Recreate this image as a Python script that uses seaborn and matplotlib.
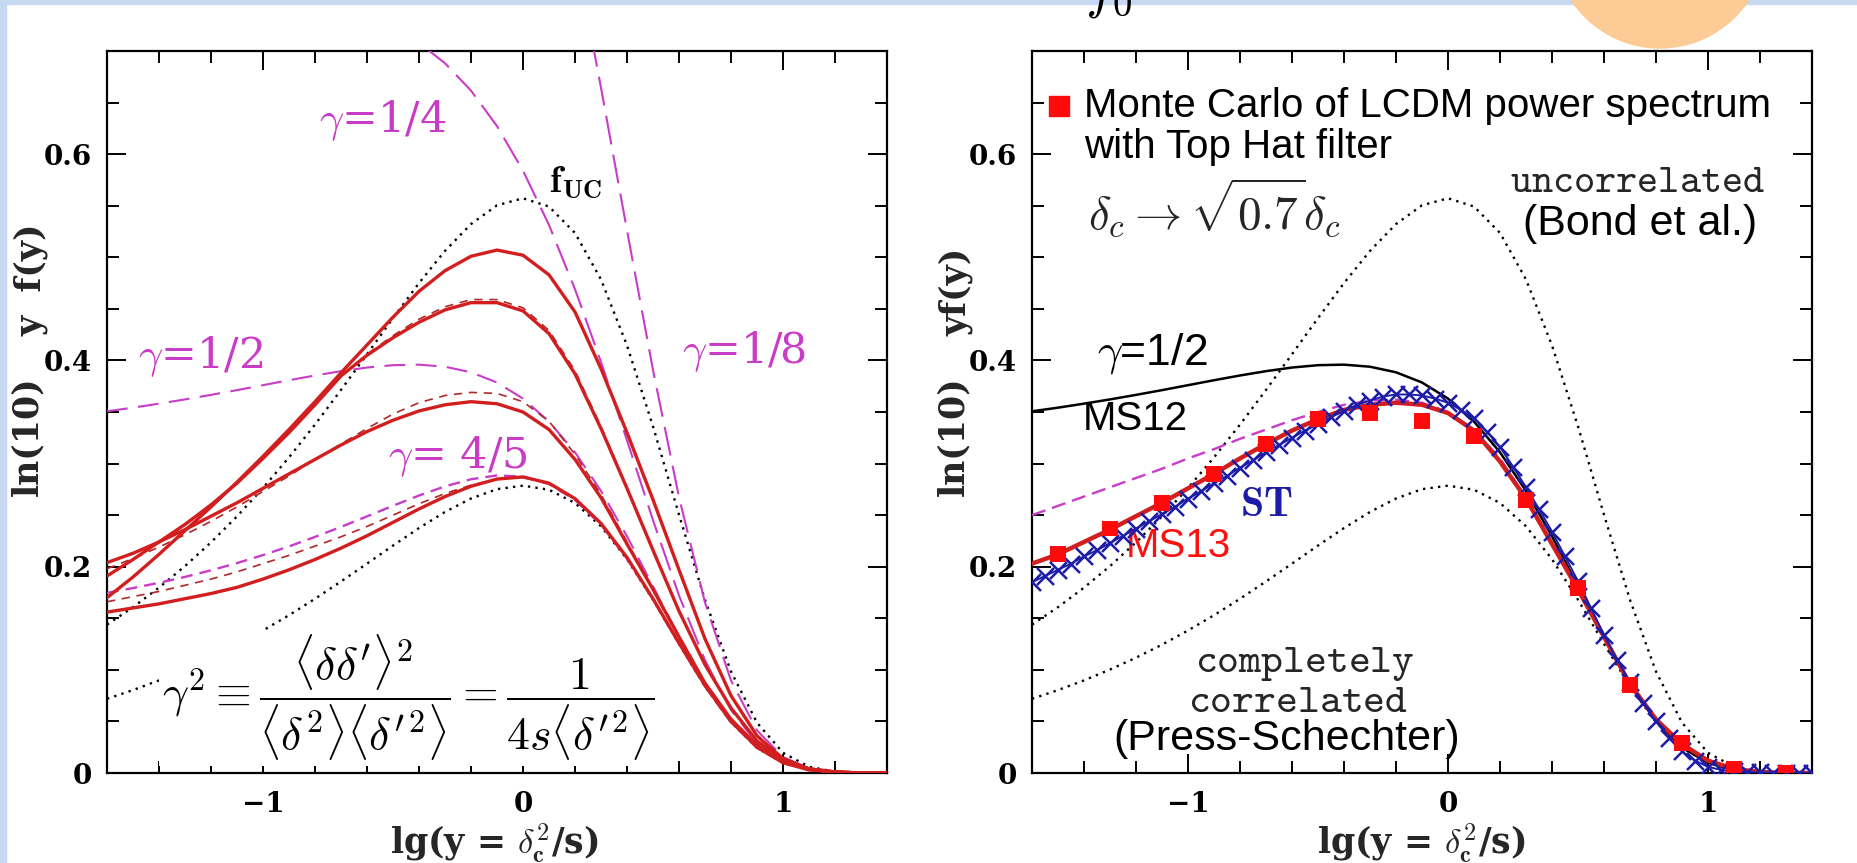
import numpy as np
import pandas as pd
import matplotlib
matplotlib.use("Agg")
import matplotlib.pyplot as plt
import seaborn as sns
from matplotlib.patches import Rectangle, Ellipse
from matplotlib.ticker import MultipleLocator

# ---------------- data ----------------
lg_y = [-1.6, -1.5, -1.4, -1.3, -1.2, -1.1, -1.0, -0.9, -0.8, -0.7, -0.6, -0.5, -0.4, -0.3, -0.2,
        -0.1, 0.0, 0.1, 0.2, 0.3, 0.4, 0.5, 0.6, 0.7, 0.8, 0.9, 1.0, 1.1, 1.2, 1.3, 1.4]

uncorrelated = [0.1438, 0.1608, 0.1797, 0.2006, 0.2236, 0.2488, 0.2763, 0.3060, 0.3378, 0.3714, 0.4060,
                0.4410, 0.4750, 0.5062, 0.5322, 0.5504, 0.5572, 0.5492, 0.5236, 0.4785, 0.4146, 0.3361,
                0.2504, 0.1678, 0.0984, 0.0488, 0.0196, 0.0060, 0.0013, 0.0002, 0.0000]
press_schechter = [0.0719, 0.0804, 0.0898, 0.1003, 0.1118, 0.1244, 0.1382, 0.1530, 0.1689, 0.1857, 0.2030,
                   0.2205, 0.2375, 0.2531, 0.2661, 0.2752, 0.2786, 0.2746, 0.2618, 0.2392, 0.2073, 0.1680,
                   0.1252, 0.0839, 0.0492, 0.0244, 0.0098, 0.0030, 0.0007, 0.0001, 0.0000]
ms12_half = [0.3507, 0.3542, 0.3581, 0.3622, 0.3666, 0.3712, 0.3760, 0.3808, 0.3854, 0.3896, 0.3931,
             0.3954, 0.3959, 0.3939, 0.3885, 0.3786, 0.3630, 0.3407, 0.3109, 0.2735, 0.2295, 0.1810,
             0.1319, 0.0869, 0.0503, 0.0247, 0.0099, 0.0030, 0.0007, 0.0001, 0.0000]
ms12_fourfifths = [0.1747, 0.1793, 0.1844, 0.1901, 0.1965, 0.2035, 0.2113, 0.2197, 0.2289, 0.2386, 0.2488,
                   0.2591, 0.2690, 0.2779, 0.2848, 0.2885, 0.2874, 0.2801, 0.2648, 0.2407, 0.2079, 0.1682,
                   0.1253, 0.0839, 0.0492, 0.0244, 0.0098, 0.0030, 0.0007, 0.0001, 0.0000]
lg_y_quarter = [-0.5, -0.4, -0.3, -0.2, -0.1, 0.0, 0.1, 0.2, 0.3, 0.4, 0.5, 0.6, 0.7, 0.8, 0.9, 1.0,
                1.1, 1.2, 1.3, 1.4]
ms12_quarter = [0.7225, 0.7080, 0.6881, 0.6616, 0.6272, 0.5840, 0.5313, 0.4690, 0.3985, 0.3225, 0.2451,
                0.1721, 0.1093, 0.0610, 0.0290, 0.0112, 0.0033, 0.0007, 0.0001, 0.0000]
lg_y_eighth = [0.2, 0.3, 0.4, 0.5, 0.6, 0.7, 0.8, 0.9, 1.0, 1.1, 1.2, 1.3, 1.4]
ms12_eighth = [0.7976, 0.6644, 0.5261, 0.3907, 0.2675, 0.1653, 0.0897, 0.0413, 0.0155, 0.0045, 0.0009,
               0.0001, 0.0000]

# Monte Carlo curves (left panel, red solid)
mc_eighth = [0.170, 0.190, 0.212, 0.235, 0.258, 0.282, 0.307, 0.333, 0.360, 0.388, 0.415, 0.442, 0.467,
             0.487, 0.501, 0.507, 0.502, 0.483, 0.447, 0.392, 0.330, 0.265, 0.197, 0.130, 0.075, 0.036,
             0.014, 0.004, 0.001, 0.000, 0.000]
mc_quarter = [0.191, 0.207, 0.224, 0.241, 0.260, 0.281, 0.305, 0.330, 0.357, 0.385, 0.405, 0.422, 0.437,
              0.449, 0.456, 0.456, 0.448, 0.426, 0.387, 0.334, 0.276, 0.216, 0.157, 0.105, 0.063, 0.031,
              0.013, 0.004, 0.001, 0.000, 0.000]
mc_half = [0.204, 0.213, 0.224, 0.236, 0.249, 0.262, 0.276, 0.290, 0.304, 0.318, 0.331, 0.342, 0.351,
           0.357, 0.360, 0.358, 0.350, 0.333, 0.304, 0.267, 0.222, 0.178, 0.132, 0.087, 0.052, 0.027,
           0.011, 0.004, 0.001, 0.000, 0.000]
mc_fourfifths = [0.156, 0.160, 0.164, 0.169, 0.174, 0.180, 0.188, 0.197, 0.207, 0.218, 0.230, 0.243,
                 0.256, 0.268, 0.278, 0.285, 0.287, 0.281, 0.266, 0.242, 0.209, 0.169, 0.126, 0.085,
                 0.050, 0.025, 0.010, 0.003, 0.001, 0.000, 0.000]
# approximations (left panel, thin red dashed)
approx_quarter = [0.191, 0.207, 0.224, 0.241, 0.260, 0.281, 0.305, 0.330, 0.357, 0.385, 0.406, 0.424,
                  0.440, 0.452, 0.459, 0.459, 0.451, 0.429, 0.390, 0.336, 0.277, 0.216, 0.157, 0.105,
                  0.063, 0.031, 0.013, 0.004, 0.001, 0.000, 0.000]
approx_half = [0.198, 0.208, 0.219, 0.231, 0.244, 0.258, 0.273, 0.288, 0.304, 0.319, 0.334, 0.348,
               0.359, 0.366, 0.369, 0.368, 0.360, 0.341, 0.309, 0.270, 0.224, 0.179, 0.133, 0.088,
               0.053, 0.027, 0.011, 0.004, 0.001, 0.000, 0.000]
approx_fourfifths = [0.166, 0.171, 0.176, 0.182, 0.188, 0.195, 0.203, 0.211, 0.220, 0.229, 0.239,
                     0.250, 0.261, 0.271, 0.279, 0.285, 0.287, 0.281, 0.266, 0.242, 0.209, 0.169,
                     0.126, 0.085, 0.050, 0.025, 0.010, 0.003, 0.001, 0.000, 0.000]

# right panel
ms13_curve = [0.203, 0.212, 0.224, 0.236, 0.249, 0.262, 0.276, 0.290, 0.305, 0.319, 0.332, 0.343, 0.352,
              0.357, 0.359, 0.357, 0.349, 0.332, 0.302, 0.266, 0.222, 0.178, 0.132, 0.086, 0.052, 0.028,
              0.012, 0.004, 0.001, 0.000, 0.000]
magenta_right = [0.250, 0.259, 0.268, 0.277, 0.286, 0.295, 0.305, 0.314, 0.324, 0.333, 0.342, 0.350,
                 0.357, 0.361, 0.362, 0.359, 0.350, 0.333, 0.305, 0.267, 0.223, 0.179, 0.131, 0.086,
                 0.052, 0.028, 0.012, 0.004, 0.001, 0.000, 0.000]
lg_y_st = [-1.6, -1.55, -1.5, -1.45, -1.4, -1.35, -1.3, -1.25, -1.2, -1.15, -1.1, -1.05, -1.0, -0.95,
           -0.9, -0.85, -0.8, -0.75, -0.7, -0.65, -0.6, -0.55, -0.5, -0.45, -0.4, -0.35, -0.3, -0.25,
           -0.2, -0.15, -0.1, -0.05, 0.0, 0.05, 0.1, 0.15, 0.2, 0.25, 0.3, 0.35, 0.4, 0.45, 0.5, 0.55,
           0.6, 0.65, 0.7, 0.75, 0.8, 0.85, 0.9, 0.95, 1.0, 1.05, 1.1, 1.15, 1.2, 1.25, 1.3, 1.35, 1.4]
sheth_tormen = [0.185, 0.191, 0.197, 0.203, 0.210, 0.216, 0.223, 0.230, 0.237, 0.244, 0.251, 0.258, 0.266,
                0.273, 0.281, 0.288, 0.296, 0.303, 0.311, 0.318, 0.325, 0.332, 0.338, 0.345, 0.351, 0.357,
                0.361, 0.365, 0.367, 0.367, 0.366, 0.363, 0.359, 0.352, 0.344, 0.331, 0.316, 0.297, 0.277,
                0.256, 0.234, 0.210, 0.186, 0.160, 0.134, 0.110, 0.088, 0.068, 0.050, 0.034, 0.021, 0.012,
                0.006, 0.003, 0.0015, 0.001, 0.0005, 0.0003, 0.0002, 0.0001, 0.0]
mc_lg_y = [-1.5, -1.3, -1.1, -0.9, -0.7, -0.5, -0.3, -0.1, 0.1, 0.3, 0.5, 0.7, 0.9, 1.1, 1.3]
mc_lcdm = [0.212, 0.237, 0.262, 0.290, 0.319, 0.343, 0.349, 0.341, 0.327, 0.265, 0.179, 0.085, 0.029,
           0.004, 0.000]

x_ticks = [-1, 0, 1]
y_ticks = [0, 0.2, 0.4, 0.6]
x_ticklabels = ["\u22121", "0", "1"]
y_ticklabels = ["0", "0.2", "0.4", "0.6"]

# ---------------- style ----------------
sns.set_theme(style="white")
plt.rcParams["font.family"] = ["DejaVu Serif"]
plt.rcParams["mathtext.fontset"] = "cm"

W, H = 1858, 863
fig = plt.figure(figsize=(W / 100, H / 100), dpi=100)
fig.patch.set_facecolor("white")

# slide decorations
fig.patches.append(Rectangle((0, 0), 6 / W, 1, transform=fig.transFigure, color="#c6d9f1", zorder=0))
fig.patches.append(Rectangle((0, 1 - 4 / H), 1, 4 / H, transform=fig.transFigure, color="#c6d9f1", zorder=0))

MAG = "#c83cc8"
RED = "#d21e1e"
DRED = "#b02828"
BLUE = "#1c1ca8"

axL = fig.add_axes([107 / W, 1 - 773 / H, 780 / W, 722 / H])
axR = fig.add_axes([1032 / W, 1 - 773 / H, 780 / W, 722 / H])


def style_axes(ax):
    ax.set_xlim(-1.6, 1.4)
    ax.set_ylim(0, 0.7)
    ax.xaxis.set_minor_locator(MultipleLocator(0.2))
    ax.yaxis.set_minor_locator(MultipleLocator(0.05))
    ax.set_xticks(x_ticks)
    ax.set_xticklabels(x_ticklabels, fontweight="bold")
    ax.set_yticks(y_ticks)
    ax.set_yticklabels(y_ticklabels, fontweight="bold")
    ax.tick_params(which="both", direction="in", top=True, right=True, bottom=True, left=True,
                   colors="black", width=1.4)
    ax.tick_params(which="major", length=14, labelsize=20, pad=11)
    ax.tick_params(axis="x", which="major", pad=13)
    ax.tick_params(which="minor", length=8.5)
    for s in ax.spines.values():
        s.set_color("black")
        s.set_linewidth(1.6)
        s.set_visible(True)
    ax.set_facecolor("white")
    ax.set_xlabel("")
    ax.set_ylabel("")


def line(ax, x, y, **kw):
    sns.lineplot(x=x, y=y, ax=ax, estimator=None, sort=False, **kw)


DOT = (0, (1, 2.2))

# ---------- left panel ----------
line(axL, lg_y, uncorrelated, color="black", lw=1.7, linestyle=DOT, zorder=2)
line(axL, lg_y, press_schechter, color="black", lw=1.7, linestyle=DOT, zorder=2)
line(axL, lg_y_quarter, ms12_quarter, color=MAG, lw=1.5, linestyle=(0, (14, 5)), zorder=3)
line(axL, lg_y_eighth, ms12_eighth, color=MAG, lw=1.5, linestyle=(0, (14, 5)), zorder=3)
line(axL, lg_y, ms12_half, color=MAG, lw=1.5, linestyle=(0, (10, 5)), zorder=3)
line(axL, lg_y, ms12_fourfifths, color=MAG, lw=1.7, linestyle=(0, (5, 3)), zorder=3)
for yy in (approx_quarter, approx_half, approx_fourfifths):
    line(axL, lg_y, yy, color=DRED, lw=1.2, linestyle=(0, (5, 4)), zorder=4)
for yy in (mc_eighth, mc_quarter, mc_half, mc_fourfifths):
    line(axL, lg_y, yy, color=RED, lw=2.4, zorder=5)

tkw = dict(color=MAG, fontsize=31, ha="center", va="center", family="DejaVu Serif")
axL.text(-0.54, 0.633, r"$\gamma$=1/4", **tkw)
axL.text(-1.24, 0.404, r"$\gamma$=1/2", **tkw)
axL.text(0.85, 0.409, r"$\gamma$=1/8", **tkw)
axL.text(-0.25, 0.307, r"$\gamma$= 4/5", **tkw)
axL.text(0.20, 0.572, r"$\mathbf{f}_{\mathbf{UC}}$", color="black", fontsize=27, ha="center", va="center")
axL.text(-1.39, 0.073,
         r"$\gamma^2 \equiv \dfrac{\langle\delta\delta'\rangle^2}{\langle\delta^2\rangle\langle\delta'^2\rangle}"
         r" = \dfrac{1}{4s\langle\delta'^2\rangle}$",
         fontsize=33, ha="left", va="center", color="black", zorder=8,
         bbox=dict(facecolor="white", edgecolor="none", pad=2))

# ---------- right panel ----------
line(axR, lg_y, uncorrelated, color="black", lw=1.7, linestyle=DOT, zorder=2)
line(axR, lg_y, press_schechter, color="black", lw=1.7, linestyle=DOT, zorder=2)
line(axR, lg_y, ms12_half, color="black", lw=1.8, zorder=3)
line(axR, lg_y, magenta_right, color=MAG, lw=1.7, linestyle=(0, (6, 3)), zorder=3)
line(axR, lg_y, ms13_curve, color=RED, lw=3.2, zorder=4)
line(axR, lg_y_st, sheth_tormen, color=BLUE, lw=1.4, zorder=5)
sns.scatterplot(x=lg_y_st, y=sheth_tormen, ax=axR, marker="x", s=150, color=BLUE, linewidth=1.8,
                zorder=5)
sns.scatterplot(x=mc_lg_y, y=mc_lcdm, ax=axR, marker="s", s=130, color="#ff0a0a", edgecolor="none",
                zorder=6)

axR.scatter([-1.497], [0.647], marker="s", s=200, color="#ff0a0a", zorder=6, clip_on=False)
skw = dict(family="Liberation Sans", color="black")
axR.text(-1.40, 0.647, "Monte Carlo of LCDM power spectrum", fontsize=29, ha="left", va="center", **skw)
axR.text(-1.40, 0.607, "with Top Hat filter", fontsize=29, ha="left", va="center", **skw)
axR.text(-1.385, 0.547, r"$\delta_c \rightarrow \sqrt{0.7}\delta_c$", fontsize=34, ha="left", va="center")
axR.text(0.73, 0.573, r"$\mathtt{uncorrelated}$", fontsize=29, ha="center", va="center")
axR.text(0.74, 0.532, "(Bond et al.)", fontsize=31, ha="center", va="center", **skw)
axR.text(-1.35, 0.407, r"$\gamma$=1/2", fontsize=32, ha="left", va="center", **skw)
axR.text(-1.405, 0.343, "MS12", fontsize=29, ha="left", va="center", **skw)
axR.text(-0.80, 0.261, r"$\mathbf{ST}$", fontsize=30, ha="left", va="center", color=BLUE)
axR.text(-1.24, 0.220, "MS13", fontsize=29, ha="left", va="center", family="Liberation Sans", color="#ff1010")
axR.text(-0.55, 0.108, r"$\mathtt{completely}$", fontsize=30, ha="center", va="center")
axR.text(-0.575, 0.0705, r"$\mathtt{correlated}$", fontsize=30, ha="center", va="center")
axR.text(-0.62, 0.033, "(Press-Schechter)", fontsize=31, ha="center", va="center", **skw)

for ax in (axL, axR):
    style_axes(ax)

# axis labels as figure text
lab_kw = dict(fontsize=25, ha="center", va="center", family="DejaVu Serif", fontweight="bold")
fig.text(494 / W, 1 - 843 / H, r"lg(y = $\mathbf{\delta_{c}^2}$/s)", **lab_kw)
fig.text(1421 / W, 1 - 843 / H, r"lg(y = $\mathbf{\delta_{c}^2}$/s)", **lab_kw)
fig.text(27 / W, 1 - 436 / H, "ln(10)", rotation=90, **lab_kw)
fig.text(31 / W, 1 - 280 / H, "y  f(y)", rotation=90, **lab_kw)
fig.text(953 / W, 1 - 436 / H, "ln(10)", rotation=90, **lab_kw)
fig.text(956 / W, 1 - 292 / H, "yf(y)", rotation=90, **lab_kw)

# partially hidden slide elements at top
fig.patches.append(Ellipse((1660 / W, 1 + 58 / H), 2 * 106 / W, 2 * 106 / H, transform=fig.transFigure,
                           color="#fccb96", zorder=1))
fig.text(1085 / W, 1 - 6 / H, r"$f_0$", fontsize=40, ha="left", va="baseline", color="black")

fig.savefig("out.png", dpi=100, facecolor="white")
